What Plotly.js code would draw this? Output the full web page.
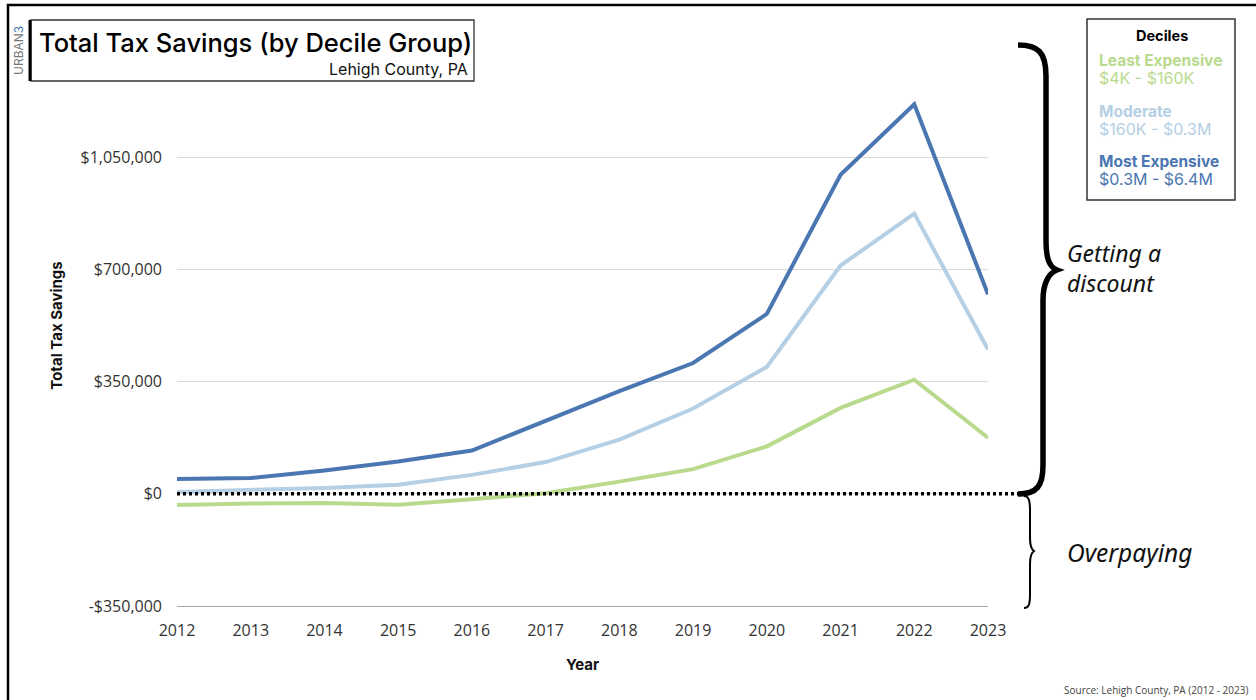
<!DOCTYPE html>
<html>
<head>
<meta charset="utf-8">
<script src="https://cdn.plot.ly/plotly-3.0.1.min.js"></script>
<style>html,body{margin:0;padding:0;background:#fff;}#chart{width:1256px;height:700px;}</style>
</head>
<body>
<div id="chart"></div>
<script>
// ---- data ----
const years = [2012, 2013, 2014, 2015, 2016, 2017, 2018, 2019, 2020, 2021, 2022, 2023];
const leastExpensive = [-35000, -30000, -29000, -34000, -17000, 2000, 38000, 77000, 148000, 268000, 356000, 175000];
const moderate = [6000, 11500, 18000, 28000, 59000, 99000, 169000, 266000, 396000, 712000, 874000, 450000];
const mostExpensive = [46000, 49000, 73000, 101000, 135000, 229000, 320000, 408000, 561000, 995000, 1215000, 622000];
const seriesNames = ["Least Expensive", "Moderate", "Most Expensive"];
const seriesRanges = ["$4K - $160K", "$160K - $0.3M", "$0.3M - $6.4M"];
const yTicks = [-350000, 0, 350000, 700000, 1050000, 1400000];
const yTickLabels = ["-$350,000", "$0", "$350,000", "$700,000", "$1,050,000", ""];

// ---- style ----
const colors = ["#b9da8d", "#b5cfe4", "#4a76b1"];
const W = 1256, H = 700, L = 177, R = 988, T = 45, B = 606;
const px = x => (x - L) / (R - L);
const py = y => (B - y) / (B - T);

const data = [leastExpensive, moderate, mostExpensive].map((vals, i) => ({
  type: "scatter", mode: "lines", x: years, y: vals, name: seriesNames[i],
  line: {color: colors[i], width: 4}, hoverinfo: "x+y"
}));

function pathPx(cmds) {
  return cmds.map(c => {
    const l = c[0]; const nums = c.slice(1);
    const out = [];
    for (let k = 0; k < nums.length; k += 2) out.push(px(nums[k]).toFixed(5) + "," + py(nums[k+1]).toFixed(5));
    return l + " " + out.join(" ");
  }).join(" ");
}

const bigBrace = pathPx([
  ["M", 1018, 45], ["C", 1038, 45, 1046, 52, 1046, 76], ["L", 1046, 240],
  ["C", 1046, 258, 1049, 267, 1057, 270], ["C", 1049, 273, 1043, 283, 1043, 300],
  ["L", 1043, 465], ["C", 1043, 486, 1037, 494, 1018, 494]
]);
const smallBrace = pathPx([
  ["M", 1024, 496], ["C", 1029, 496, 1030, 501, 1030, 511], ["L", 1030, 538],
  ["C", 1030, 546, 1031, 549, 1034, 551], ["C", 1031, 553, 1030, 556, 1030, 564],
  ["L", 1030, 594], ["C", 1030, 604, 1029, 608, 1024, 608]
]);

const shapes = [
  {type: "rect", xref: "paper", yref: "paper", x0: px(8), x1: px(1270), y0: py(5), y1: py(720),
   line: {color: "#000", width: 2.5}, layer: "above"},
  {type: "rect", xref: "paper", yref: "paper", x0: px(31), x1: px(474), y0: py(20), y1: py(81),
   line: {color: "#333", width: 1.3}, fillcolor: "rgba(255,255,255,1)", layer: "above"},
  {type: "line", xref: "paper", yref: "paper", x0: px(30), x1: px(30), y0: py(20), y1: py(81),
   line: {color: "#000", width: 3}, layer: "above"},
  {type: "rect", xref: "paper", yref: "paper", x0: px(1087), x1: px(1235), y0: py(19), y1: py(200),
   line: {color: "#333", width: 1.5}, layer: "above"},
  {type: "line", xref: "paper", yref: "y", x0: 0, x1: px(1018), y0: 0, y1: 0,
   line: {color: "#000", width: 3.5, dash: "3px,3px"}, layer: "above"},
  {type: "path", xref: "paper", yref: "paper", path: bigBrace, line: {color: "#000", width: 5.5}, layer: "above"},
  {type: "path", xref: "paper", yref: "paper", path: smallBrace, line: {color: "#000", width: 2}, layer: "above"}
];

const ann = (x, y, text, font, opts) => Object.assign({
  xref: "paper", yref: "paper", x: px(x), y: py(y), text: text, showarrow: false,
  xanchor: "left", yanchor: "middle", font: font
}, opts || {});

const sans = "Inter, 'Noto Sans', sans-serif";
const ital = "'Noto Sans', 'Open Sans', sans-serif";
const annotations = [
  ann(37, 43, "Total Tax Savings (by Decile Group)", {family: sans, size: 25.5, color: "#000", weight: 500}),
  ann(470, 69, "Lehigh County, PA", {family: sans, size: 16, color: "#111"}, {xanchor: "right"}),
  ann(18, 51, "URBAN<span style='color:#4a76b1'>3</span>", {family: sans, size: 12, color: "#777"}, {xanchor: "center", textangle: -90}),
  ann(1162, 35, "<b>Deciles</b>", {family: sans, size: 14.5, color: "#000"}, {xanchor: "center"}),
  ann(1097, 60, "<b>" + seriesNames[0] + "</b>", {family: sans, size: 15.5, color: colors[0]}),
  ann(1097, 78, seriesRanges[0], {family: sans, size: 16, color: colors[0]}),
  ann(1097, 111, "<b>" + seriesNames[1] + "</b>", {family: sans, size: 15.5, color: colors[1]}),
  ann(1097, 129, seriesRanges[1], {family: sans, size: 16, color: colors[1]}),
  ann(1097, 161, "<b>" + seriesNames[2] + "</b>", {family: sans, size: 15.5, color: colors[2]}),
  ann(1097, 179, seriesRanges[2], {family: sans, size: 16, color: colors[2]}),
  ann(1065, 268, "<i>Getting a<br>discount</i>", {family: ital, size: 23, color: "#111"}, {align: "left"}),
  ann(1065, 552, "<i>Overpaying</i>", {family: ital, size: 24.5, color: "#111"}),
  ann(1250, 690, "Source: Lehigh County, PA (2012 - 2023)", {family: "'Open Sans', sans-serif", size: 10, color: "#444"}, {xanchor: "right"})
];

const layout = {
  width: W, height: H,
  margin: {l: L, r: W - R, t: T, b: H - B, pad: 0},
  paper_bgcolor: "#fff", plot_bgcolor: "#fff",
  showlegend: false,
  font: {family: "'Open Sans', sans-serif", color: "#333"},
  xaxis: {
    range: [2012, 2023], tickvals: years, ticktext: years.map(String),
    showgrid: false, zeroline: false, showline: true, linecolor: "#a6a6a6", linewidth: 1.3,
    tickfont: {size: 16, color: "#333"}, ticks: "", ticklabelstandoff: 9,
    title: {text: "<b>Year</b>", font: {family: sans, size: 15, color: "#111"}, standoff: 20}
  },
  yaxis: {
    range: [-350000, 1400000], tickvals: yTicks, ticktext: yTickLabels,
    showgrid: true, gridcolor: "#d9d9d9", gridwidth: 1, zeroline: false, showline: false,
    tickfont: {size: 16, color: "#333"}, ticks: "", ticklabelstandoff: 14,
    title: {text: "<b>Total Tax Savings</b>", font: {family: sans, size: 15, color: "#111"}, standoff: 14}
  },
  shapes: shapes,
  annotations: annotations
};

Plotly.newPlot("chart", data, layout, {displayModeBar: false, staticPlot: true});
</script>
</body>
</html>
